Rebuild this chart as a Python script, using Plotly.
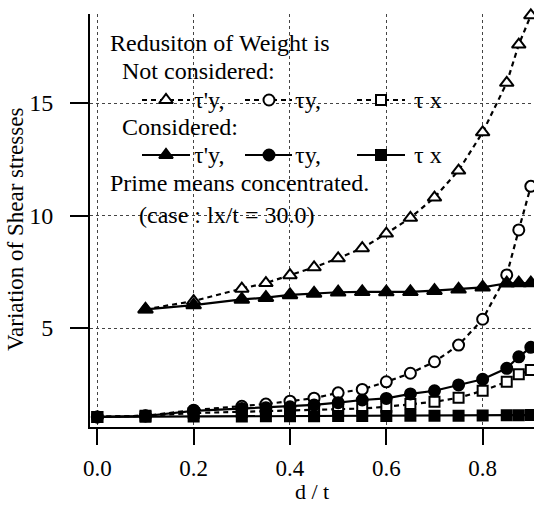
import plotly.graph_objects as go

# ---------------- data ----------------
x_all = [0.0, 0.1, 0.2, 0.3, 0.35, 0.4, 0.45, 0.5, 0.55, 0.6, 0.65, 0.7, 0.75, 0.8, 0.85, 0.875, 0.9]
x_tri = x_all[1:]

tau_py_not = [5.83, 6.2, 6.75, 7.0, 7.35, 7.7, 8.1, 8.55, 9.2, 9.9, 10.8, 12.0, 13.7, 15.9, 17.6, 18.9]
tau_py_con = [5.83, 6.02, 6.27, 6.35, 6.47, 6.54, 6.59, 6.61, 6.6, 6.61, 6.66, 6.72, 6.81, 6.99, 7.0, 7.0]

tau_y_not = [1.05, 1.1, 1.35, 1.52, 1.62, 1.75, 1.88, 2.12, 2.27, 2.61, 2.99, 3.5, 4.24, 5.39, 7.36, 9.36, 11.3]
tau_y_con = [1.05, 1.09, 1.32, 1.42, 1.46, 1.5, 1.58, 1.68, 1.8, 1.87, 2.07, 2.21, 2.47, 2.72, 3.21, 3.72, 4.14]

tau_x_not = [1.05, 1.1, 1.22, 1.27, 1.3, 1.32, 1.35, 1.37, 1.42, 1.5, 1.62, 1.72, 1.9, 2.21, 2.61, 2.94, 3.13]
tau_x_con = [1.05, 1.06, 1.07, 1.07, 1.08, 1.08, 1.08, 1.09, 1.09, 1.09, 1.1, 1.1, 1.1, 1.11, 1.12, 1.12, 1.13]

x_ticks = [0.0, 0.2, 0.4, 0.6, 0.8]
x_tick_labels = ["0.0", "0.2", "0.4", "0.6", "0.8"]
y_ticks = [5, 10, 15]
y_tick_labels = ["5", "10", "15"]

FONT = "Liberation Serif"
FS = 24
DASH = "5px,4px"

# plot-area pixel frame (for placing the text block)
L, R, T, B = 90, 534, 14, 427

def px(xp):
    return (xp - L) / (R - L)

def py(yp):
    return (B - yp) / (B - T)

fig = go.Figure()

def add_series(x, y, symbol, filled, dashed, size):
    fig.add_trace(go.Scatter(
        x=x, y=y, mode="lines+markers", cliponaxis=False,
        line=dict(color="black", width=2.2, dash=DASH if dashed else "solid"),
        marker=dict(symbol=symbol, size=size,
                    color="black" if filled else "white",
                    line=dict(color="black", width=2)),
        showlegend=False, hoverinfo="skip"))

add_series(x_all, tau_x_not, "square", False, True, 10)
add_series(x_all, tau_y_not, "circle", False, True, 11)
add_series(x_tri, tau_py_not, "triangle-up", False, True, 12)
add_series(x_all, tau_x_con, "square", True, False, 10)
add_series(x_all, tau_y_con, "circle", True, False, 11)
add_series(x_tri, tau_py_con, "triangle-up", True, False, 13)

# ---------------- legend block (overlay axes in pixel units of plot area) ----------------
legend_rows = [
    (100, True, False),
    (155, False, True),
]
legend_items = [
    (142, 190, 166, "triangle-up", 192, "τ'y,", 12),
    (245, 292, 269, "circle", 293, "τy,", 11),
    (357, 405, 381, "square", 412, "τ x", 10),
]
for ry, dashed, filled in legend_rows:
    for x0, x1, xm, sym, lx, lab, sz in legend_items:
        fig.add_trace(go.Scatter(
            x=[x0, x1], y=[ry, ry], xaxis="x2", yaxis="y2", mode="lines",
            line=dict(color="black", width=2.2, dash=DASH if dashed else "solid"),
            showlegend=False, hoverinfo="skip"))
        fig.add_trace(go.Scatter(
            x=[xm], y=[ry], xaxis="x2", yaxis="y2", mode="markers",
            marker=dict(symbol=sym, size=sz, color="black" if filled else "white",
                        line=dict(color="black", width=2)),
            showlegend=False, hoverinfo="skip"))
        fig.add_annotation(x=px(lx), y=py(ry), xref="paper", yref="paper", text=lab,
                           showarrow=False, xanchor="left", yanchor="middle",
                           font=dict(family=FONT, size=FS, color="black"))

text_lines = [
    (108, 43, "Redusiton of Weight is"),
    (120, 71, "Not considered:"),
    (120, 127, "Considered:"),
    (108, 183, "Prime means concentrated."),
    (137, 215, "(case : lx/t = 30.0)"),
]
for tx, ty, t in text_lines:
    fig.add_annotation(x=px(tx), y=py(ty), xref="paper", yref="paper", text=t, showarrow=False,
                       xanchor="left", yanchor="middle",
                       font=dict(family=FONT, size=FS, color="black"))

# axis titles
fig.add_annotation(x=px(15), y=py(230), xref="paper", yref="paper",
                   text="Variation of Shear stresses",
                   textangle=-90, showarrow=False, xanchor="center", yanchor="middle",
                   font=dict(family=FONT, size=FS - 1, color="black"))
fig.add_annotation(x=px(312), y=py(491), xref="paper", yref="paper", text="d / t",
                   showarrow=False, xanchor="center", yanchor="middle", borderpad=0,
                   font=dict(family=FONT, size=FS - 2, color="black"))

fig.update_layout(
    width=534, height=505,
    margin=dict(l=L, r=534 - R, t=T, b=505 - B),
    paper_bgcolor="white", plot_bgcolor="white",
    font=dict(family=FONT, size=FS, color="black"),
    xaxis=dict(range=[-0.0152, 0.9066], tickvals=x_ticks, ticktext=x_tick_labels,
               showline=True, linecolor="black", linewidth=2,
               ticks="outside", ticklen=16, tickwidth=2, tickcolor="black",
               ticklabelstandoff=3, tickfont=dict(size=FS - 1),
               showgrid=True, gridcolor="#444", griddash="dot", gridwidth=1,
               zeroline=False),
    yaxis=dict(range=[0.6, 18.96], tickvals=y_ticks, ticktext=y_tick_labels,
               showline=True, linecolor="black", linewidth=2,
               ticks="outside", ticklen=18, tickwidth=2, tickcolor="black",
               ticklabelstandoff=12,
               showgrid=True, gridcolor="#444", griddash="dot", gridwidth=1,
               zeroline=False),
    xaxis2=dict(range=[L, R], overlaying="x", visible=False, fixedrange=True),
    yaxis2=dict(range=[B, T], overlaying="y", visible=False, fixedrange=True),
)

fig.write_html("out.html")
